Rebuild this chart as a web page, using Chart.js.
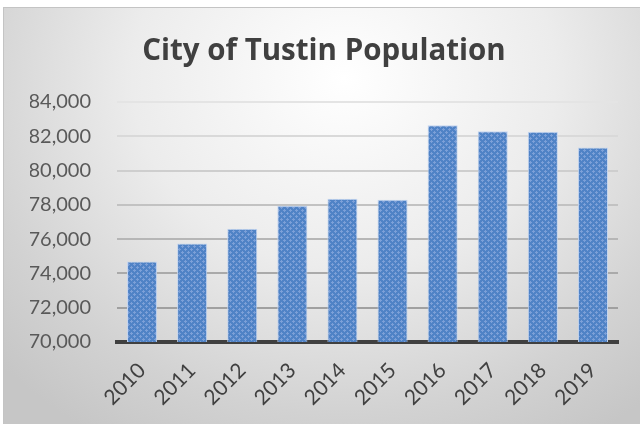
<!DOCTYPE html>
<html>
<head>
<meta charset="utf-8">
<script src="https://cdn.jsdelivr.net/npm/chart.js@4"></script>
<style>
  body { margin: 0; background: #fff; }
  #frame {
    position: absolute; left: 3px; top: 7px; width: 637px; height: 417px;
    border-top: 1px solid #c4c4c4; border-left: 1px solid #c4c4c4;
    background: radial-gradient(ellipse 470px 420px at 340px 70px, #ffffff 0%, #ececec 45%, #d2d2d2 80%, #c6c6c6 100%);
  }
  #wrap { position: absolute; left: 0; top: 0; width: 636px; height: 416px; }
</style>
</head>
<body>
<div id="frame"><div id="wrap"><canvas id="poblacion"></canvas></div></div>
<script>
// datos
var years = ["2010", "2011", "2012", "2013", "2014", "2015", "2016", "2017", "2018", "2019"];
var population = [74700, 75750, 76600, 77950, 78350, 78300, 82650, 82300, 82270, 81350];
var yTicks = [70000, 72000, 74000, 76000, 78000, 80000, 82000, 84000];
var gridColors = ["#404040", "#a0a0a0", "#aaaaaa", "#b6b6b6", "#c2c2c2", "#cecece", "#d9d9d9", "#e4e4e4"];

// textura de las barras
function barPattern() {
    var c = document.createElement("canvas");
    c.width = 6; c.height = 6;
    var g = c.getContext("2d");
    g.fillStyle = "#5083c6";
    g.fillRect(0, 0, 6, 6);
    g.fillStyle = "#7ca0d8";
    g.fillRect(1, 0, 1, 3);
    g.fillRect(0, 1, 3, 1);
    g.fillRect(4, 3, 1, 3);
    g.fillRect(3, 4, 3, 1);
    return g.createPattern(c, "repeat");
}

var ctx = document.getElementById("poblacion");
var myChart = new Chart(ctx, {
    type: 'bar',
    data: {
        labels: years,
        datasets: [{
            label: 'Population',
            data: population,
            backgroundColor: barPattern(),
            borderColor: '#c4d5ef',
            borderWidth: 1,
            categoryPercentage: 0.6,
            barPercentage: 1
        }]
    },
    options: {
        responsive: true,
        maintainAspectRatio: false,
        animation: false,
        layout: { padding: { left: 26, right: 22, top: 0, bottom: 0 } },
        plugins: {
            legend: { display: false },
            tooltip: { enabled: false },
            title: {
                display: true,
                text: 'City of Tustin Population',
                color: '#404040',
                font: { family: 'Open Sans', size: 29.5, weight: 'bold' },
                padding: { top: 26, bottom: 32.6 }
            }
        },
        scales: {
            x: {
                grid: { display: false },
                border: { display: true, color: '#404040', width: 4 },
                ticks: {
                    color: '#404040',
                    font: { family: 'Lato', size: 21 },
                    minRotation: 45,
                    maxRotation: 45,
                    padding: 8
                },
                afterFit: function (scale) { scale.height = 82; }
            },
            y: {
                min: 70000,
                max: 84000,
                afterBuildTicks: function (scale) {
                    scale.ticks = yTicks.map(function (v) { return { value: v }; });
                },
                grid: {
                    drawTicks: false,
                    lineWidth: 2,
                    color: function (c) { return gridColors[c.index]; }
                },
                border: { display: false },
                ticks: {
                    color: '#595959',
                    font: { family: 'Lato', size: 20 },
                    padding: 26,
                    callback: function (v) { return v.toLocaleString('en-US'); }
                },
                afterFit: function (scale) { scale.width = 87; }
            }
        }
    }
});
</script>
</body>
</html>
